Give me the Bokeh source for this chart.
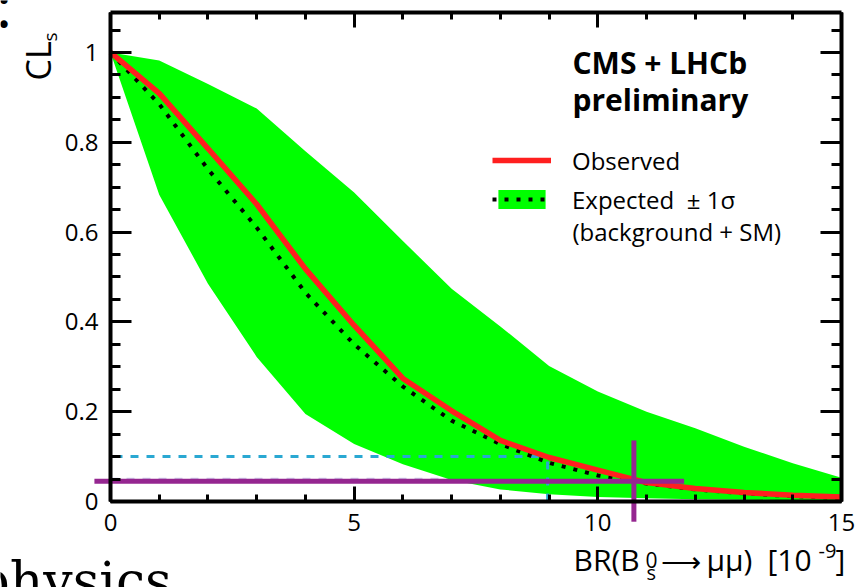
import numpy as np
from bokeh.plotting import figure
from bokeh.models import (Range1d, LinearAxis, SingleIntervalTicker, NumeralTickFormatter,
                          CustomJSTickFormatter, Label, Legend, LegendItem)
from bokeh.embed import file_html
from bokeh.resources import INLINE

# ---------------- data ----------------
br = [0, 1, 2, 3, 4, 5, 6, 7, 8, 9, 10, 11, 12, 13, 14, 15]
observed = [1.0, 0.909, 0.786, 0.662, 0.518, 0.392, 0.274, 0.202, 0.136, 0.098, 0.070,
            0.042, 0.029, 0.020, 0.014, 0.010]
expected = [1.0, 0.885, 0.740, 0.610, 0.465, 0.350, 0.256, 0.180, 0.128, 0.086, 0.058,
            0.040, 0.027, 0.018, 0.012, 0.008]
band_hi = [1.0, 0.982, 0.930, 0.875, 0.780, 0.688, 0.580, 0.474, 0.390, 0.302, 0.245,
           0.200, 0.163, 0.122, 0.085, 0.053]
band_lo = [1.0, 0.683, 0.485, 0.322, 0.195, 0.128, 0.083, 0.048, 0.027, 0.016, 0.010,
           0.007, 0.005, 0.004, 0.003, 0.002]

cl90_level = 0.10      # dashed 90% CL guide
cl90_br = 8.97
cl95_level = 0.05      # faint guide
cross_level = 0.045    # hand-drawn magenta cross
cross_br = 10.74
cross_h_span = [-0.33, 11.77]
cross_v_span = [-0.045, 0.136]

X_AXIS = (0, 15)
Y_AXIS = (0, 1.089)

FONT = "Open Sans"

# page geometry: the plotting frame of the original sits at these pixels
W, H = 861, 587
FL, FR, FT, FB = 110, 841, 12, 501
XS = (X_AXIS[1] - X_AXIS[0]) / (FR - FL)
YS = (Y_AXIS[1] - Y_AXIS[0]) / (FB - FT)
def dx(px):
    return X_AXIS[0] + (px - FL) * XS
def dy(py):
    return Y_AXIS[0] + (FB - py) * YS

p = figure(width=W, height=H, title=None,
           x_range=Range1d(dx(0), dx(W)), y_range=Range1d(dy(H), dy(0)),
           x_axis_location=None, y_axis_location=None,
           min_border=0, min_border_left=0, min_border_right=0,
           min_border_top=0, min_border_bottom=0,
           output_backend="svg", toolbar_location=None)
p.outline_line_color = None
p.xgrid.visible = False
p.ygrid.visible = False
p.background_fill_color = "white"
p.border_fill_color = "white"

def style_axis(ax, major_in, minor_in, labels=True):
    ax.axis_line_width = 4
    ax.axis_line_color = "black"
    ax.major_tick_in = major_in
    ax.major_tick_out = 0
    ax.minor_tick_in = minor_in
    ax.minor_tick_out = 0
    ax.major_tick_line_width = 3
    ax.minor_tick_line_width = 3
    ax.major_tick_line_color = "black"
    ax.minor_tick_line_color = "black"
    if labels:
        ax.major_label_text_font = FONT
        ax.major_label_text_font_size = "24px"
        ax.major_label_text_color = "black"
    else:
        ax.formatter = CustomJSTickFormatter(code="return ''")
        ax.major_label_standoff = 0
        ax.major_label_text_font_size = "1px"

yt = dict(interval=0.2, num_minor_ticks=4)
xt = dict(interval=5, num_minor_ticks=5)

left = LinearAxis(ticker=SingleIntervalTicker(**yt), formatter=NumeralTickFormatter(format="0.[0]"),
                  fixed_location=X_AXIS[0], bounds=Y_AXIS)
style_axis(left, 21, 10)
left.major_label_standoff = 12
right = LinearAxis(ticker=SingleIntervalTicker(**yt), fixed_location=X_AXIS[1], bounds=Y_AXIS)
style_axis(right, 21, 10, labels=False)
below = LinearAxis(ticker=SingleIntervalTicker(**xt), formatter=NumeralTickFormatter(format="0"),
                   fixed_location=Y_AXIS[0], bounds=X_AXIS)
style_axis(below, 15, 7)
below.major_label_standoff = 12
above = LinearAxis(ticker=SingleIntervalTicker(**xt), fixed_location=Y_AXIS[1], bounds=X_AXIS)
style_axis(above, 15, 7, labels=False)
p.add_layout(left, "left")
p.add_layout(right, "right")
p.add_layout(below, "below")
p.add_layout(above, "above")

# faint guide at 0.05 (under the band)
p.line([X_AXIS[0], cross_br], [cl95_level, cl95_level], line_color="#cfcaea",
       line_width=2.5, line_dash="8 8")

band = p.varea(x=br, y1=band_lo, y2=band_hi, fill_color="#00ff00")

# cyan dashed guides
p.line([X_AXIS[0], cl90_br], [cl90_level, cl90_level], line_color="#2aa8d2",
       line_width=3, line_dash="8 8", line_dash_offset=-4)
p.line([cl90_br, cl90_br], [Y_AXIS[0], cl90_level], line_color="#2aa8d2",
       line_width=3, line_dash="8 8")

exp_r = p.line(br, expected, line_color="black", line_width=4, line_dash="4 8",
               line_cap="butt")
obs_r = p.line(br, observed, line_color="#ff1f1f", line_width=5.5)

# hand-drawn magenta cross
MAG = "#952690"
p.line(cross_h_span, [cross_level, cross_level], line_color=MAG, line_width=5)
p.line([cross_br, cross_br], cross_v_span, line_color=MAG, line_width=5)

# legend
legend = Legend(items=[LegendItem(label="Observed", renderers=[obs_r]),
                       LegendItem(label="Expected  \u00b1 1\u03c3", renderers=[band, exp_r])],
                location=(492, H - 215.5), orientation="vertical",
                border_line_color=None, background_fill_alpha=0,
                padding=0, margin=0, spacing=6, label_standoff=21,
                glyph_width=59, glyph_height=24, label_height=24,
                label_text_font=FONT, label_text_font_size="24px",
                label_text_color="black")
p.add_layout(legend)

SHIFT = 0.355   # renderer places the alphabetic baseline ~0.355 em below the anchor

def lab(text, px, py, size, k=SHIFT, **kw):
    angle = kw.get("angle", 0)
    if angle:
        px = px - k * size
    else:
        py = py - k * size
    p.add_layout(Label(x=dx(px), y=dy(py), text=text, text_font=kw.pop("font", FONT),
                       text_font_size=f"{size}px", text_baseline=kw.pop("baseline", "alphabetic"),
                       text_color="black", **kw))

lab("CMS + LHCb", 572, 73, 30, text_font_style="bold")
lab("preliminary", 572, 110, 30, text_font_style="bold")
lab("(background + SM)", 572, 240, 24)

# y-axis title (rotated)
lab("CL", 50, 80, 34, angle=np.pi / 2)
lab("s", 56, 41, 19, angle=np.pi / 2)

# x-axis title pieces
lab("BR(B", 573, 570, 30)
lab("0", 645, 567, 21)
lab("s", 646, 579, 20)
lab("\u27f6", 660, 570, 28)
lab("\u03bc\u03bc)", 706, 570, 30)
lab("[10", 767, 570, 30)
lab("-9", 818, 558, 20)
lab("]", 835, 570, 30)

# slide text around the chart
lab("physics", -24, 591, 52, k=0.2, font="DejaVu Serif")
lab("\u2022", 3.5, 24, 26, k=0, font="DejaVu Sans", baseline="middle", text_align="center")
lab("\u2022", 3.5, 0, 26, k=0, font="DejaVu Sans", baseline="middle", text_align="center")

open("out.html", "w").write(file_html(p, INLINE))
